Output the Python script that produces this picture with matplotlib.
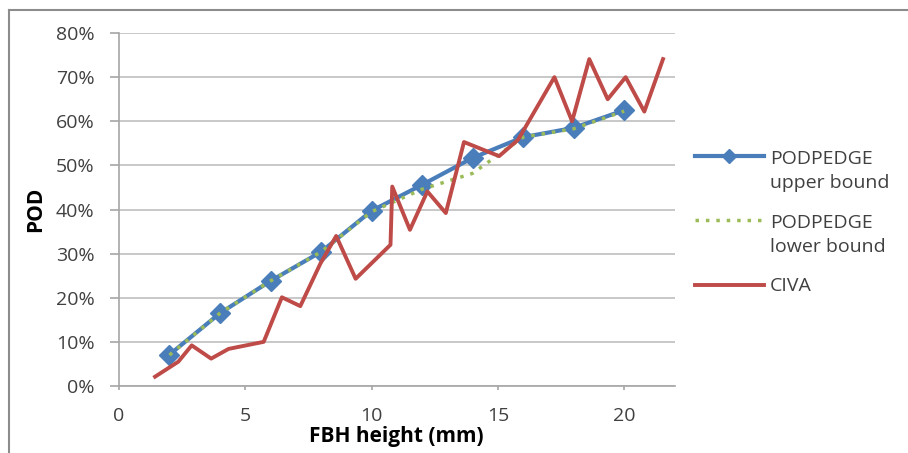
import matplotlib
matplotlib.use('Agg')
import matplotlib.pyplot as plt
import matplotlib.transforms as mtransforms
from matplotlib.ticker import PercentFormatter
from matplotlib.lines import Line2D
from matplotlib.legend_handler import HandlerLine2D

plt.rcParams['font.family'] = ['Open Sans', 'DejaVu Sans']

# PODPEDGE bounds (FBH height in mm, POD in %)
fbh = [2, 4, 6, 8, 10, 12, 14, 16, 18, 20]
upper = [7.1, 16.5, 23.8, 30.4, 39.7, 45.6, 51.7, 56.4, 58.5, 62.5]
lower = [7.0, 16.5, 23.8, 30.4, 39.5, 44.6, 48.2, 56.4, 58.3, 62.3]

# CIVA simulation curve
civa_x = [1.43, 2.35, 2.88, 3.65, 4.34, 5.73, 6.45, 7.18, 7.98, 8.6, 9.37,
          10.75, 10.82, 11.52, 12.21, 12.94, 13.66, 15.05, 15.8, 17.24,
          17.94, 18.62, 19.35, 20.06, 20.8, 21.54]
civa_y = [2.1, 5.5, 9.2, 6.2, 8.4, 10.0, 20.1, 18.1, 27.8, 34.0, 24.3,
          32.0, 45.2, 35.4, 44.1, 39.2, 55.3, 52.1, 55.8, 70.0,
          60.0, 74.1, 65.0, 70.0, 62.2, 74.1]


class TopLineHandler(HandlerLine2D):
    # put the legend line level with the first text line (like Excel)
    def __init__(self, shift=0, **kw):
        super().__init__(**kw)
        self.shift = shift

    def create_artists(self, legend, orig_handle, xdescent, ydescent,
                       width, height, fontsize, trans):
        arts = super().create_artists(legend, orig_handle, xdescent, ydescent,
                                      width, height, fontsize, trans)
        t = mtransforms.Affine2D().translate(0, self.shift) + trans
        for a in arts:
            a.set_transform(t)
            if a.get_marker() not in (None, 'None', ''):
                a.set_markersize(7)
        return arts


fig = plt.figure(figsize=(9.08, 4.53), dpi=100)
ax = fig.add_axes([0.131, 0.148, 0.612, 0.779])

l1, = ax.plot(fbh, upper, color='#4A7EBB', lw=3, marker='D', markersize=10,
              label='PODPEDGE\nupper bound', zorder=3)
l2, = ax.plot(fbh, lower, color='#9BBB59', lw=2.5, linestyle=(0, (1, 2)),
              label='PODPEDGE\nlower bound', zorder=4)
l3, = ax.plot(civa_x, civa_y, color='#BE4B48', lw=2.8, label='CIVA', zorder=5)

ax.set_xlim(0, 22)
ax.set_ylim(0, 80)
ax.set_xticks([0, 5, 10, 15, 20])
ax.set_yticks(range(0, 81, 10))
ax.yaxis.set_major_formatter(PercentFormatter(decimals=0))

ax.grid(axis='y', color='#BFBFBF', lw=1.2)
ax.set_axisbelow(True)
for s in ['top', 'right']:
    ax.spines[s].set_visible(False)
for s in ['left', 'bottom']:
    ax.spines[s].set_color('#A6A6A6')
    ax.spines[s].set_linewidth(1.2)

ax.tick_params(axis='y', length=6.5, width=1.2, color='#A6A6A6', pad=11,
               labelsize=14, labelcolor='#404040')
ax.tick_params(axis='x', length=3, width=1.2, color='#A6A6A6', pad=12,
               labelsize=14, labelcolor='#404040')

ax.set_xlabel('FBH height (mm)', fontsize=15, fontweight='bold', labelpad=1)
ax.set_ylabel('POD', fontsize=15, fontweight='bold', labelpad=7)

leg = ax.legend(loc='upper left', bbox_to_anchor=(1.005, 0.718), frameon=False,
                fontsize=14, handlelength=3.55, handletextpad=0.3,
                labelspacing=1.1, labelcolor='#404040',
                handler_map={l1: TopLineHandler(shift=10.8),
                             l2: TopLineHandler(shift=10.8),
                             l3: TopLineHandler(shift=0)})
for t in leg.get_texts():
    t.set_linespacing(1.45)

# chart area border (clipped by the image on right and bottom)
fig.add_artist(Line2D([9/908, 9/908], [0, 1 - 10/453], color='#8C8C8C', lw=1.5))
fig.add_artist(Line2D([9/908, 1], [1 - 10/453, 1 - 10/453], color='#8C8C8C', lw=1.5))

fig.savefig('out.png', dpi=100)
